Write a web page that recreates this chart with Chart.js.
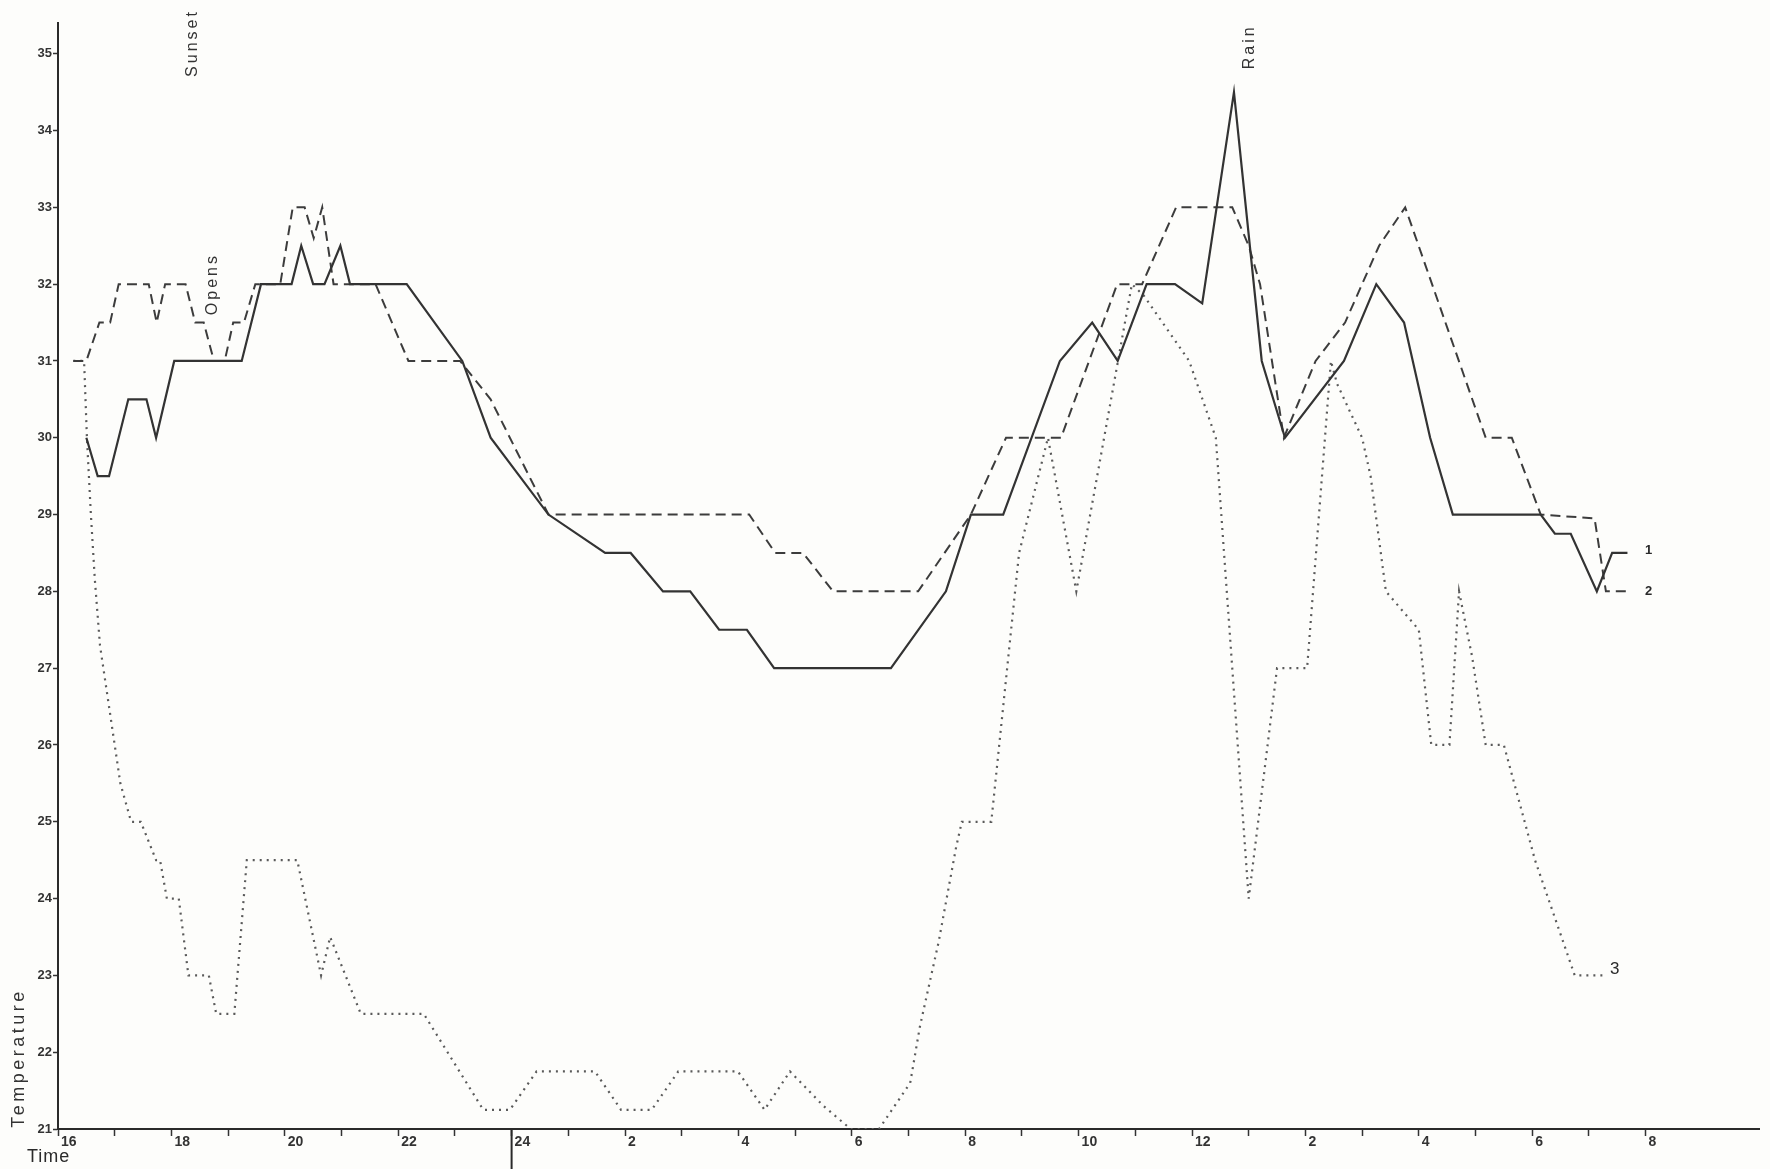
<!DOCTYPE html>
<html>
<head>
<meta charset="utf-8">
<title>Temperature</title>
<script src="https://cdn.jsdelivr.net/npm/chart.js@4.4.1/dist/chart.umd.min.js"></script>
<style>
  html, body { margin: 0; padding: 0; background: #fdfdfb; }
  #wrap { width: 1770px; height: 1169px; }
</style>
</head>
<body>
<div id="wrap"><canvas id="tempChart" width="1770" height="1169"></canvas></div>
<script>
// time is counted in hours from 16:00 on the first day
const hours1 = [0.5, 0.7, 0.9, 1.24, 1.56, 1.73, 2.05, 3.24, 3.58, 4.12, 4.29, 4.5, 4.7, 4.98, 5.15, 6.15, 7.13, 7.63, 8.65, 9.65,
  10.1, 10.67, 11.15, 11.66, 12.15, 12.63, 14.69, 15.66, 16.1, 16.67, 17.67, 18.24, 18.69, 19.2, 19.7, 20.18, 20.74, 21.23, 21.64, 22.68,
  23.25, 23.74, 24.2, 24.6, 26.15, 26.4, 26.68, 27.14, 27.41, 27.68];
const temps1 = [30, 29.5, 29.5, 30.5, 30.5, 30, 31, 31, 32, 32, 32.5, 32, 32, 32.5, 32, 32, 31, 30, 29, 28.5,
  28.5, 28, 28, 27.5, 27.5, 27, 27, 28, 29, 29, 31, 31.5, 31, 32, 32, 31.75, 34.5, 31, 30, 31,
  32, 31.5, 30, 29, 29, 28.75, 28.75, 28, 28.5, 28.5];

const hours2 = [0.27, 0.5, 0.73, 0.92, 1.07, 1.6, 1.74, 1.89, 2.25, 2.42, 2.57, 2.75, 2.94, 3.09, 3.28, 3.48, 3.92, 4.14, 4.35, 4.51,
  4.66, 4.86, 5.6, 6.18, 7.09, 7.63, 8.65, 12.19, 12.65, 13.14, 13.67, 15.17, 16.1, 16.72, 17.69, 18.68, 19.12, 19.72, 20.71, 21.0,
  21.2, 21.62, 22.18, 22.7, 23.3, 23.76, 25.18, 25.64, 26.15, 27.1, 27.3, 27.72];
const temps2 = [31, 31, 31.5, 31.5, 32, 32, 31.5, 32, 32, 31.5, 31.5, 31, 31, 31.5, 31.5, 32, 32, 33, 33, 32.6,
  33, 32, 32, 31, 31, 30.5, 29, 29, 28.5, 28.5, 28, 28, 29, 30, 30, 32, 32, 33, 33, 32.5,
  32, 30, 31, 31.5, 32.5, 33, 30, 30, 29, 28.95, 28, 28];

const hours3 = [0.27, 0.46, 0.51, 0.58, 0.65, 0.74, 0.92, 1.1, 1.29, 1.46, 1.73, 1.8, 1.92, 2.13, 2.3, 2.66, 2.79, 3.11, 3.33, 4.22,
  4.64, 4.8, 5.34, 6.45, 7.5, 7.97, 8.44, 9.47, 9.93, 10.47, 10.94, 11.99, 12.46, 12.91, 13.5, 13.98, 14.48, 15.03, 15.2, 15.53,
  15.84, 15.94, 16.46, 16.95, 17.46, 17.96, 18.94, 19.15, 19.95, 20.42, 21.0, 21.5, 22.03, 22.45, 22.56, 23.0, 23.15, 23.42, 24.0, 24.22,
  24.54, 24.71, 24.94, 25.18, 25.5, 26.05, 26.75, 27.25];
const temps3 = [31, 31, 30, 29, 28.15, 27.3, 26.4, 25.5, 25, 25, 24.5, 24.5, 24, 24, 23, 23, 22.5, 22.5, 24.5, 24.5,
  23, 23.5, 22.5, 22.5, 21.25, 21.25, 21.75, 21.75, 21.25, 21.25, 21.75, 21.75, 21.25, 21.75, 21.3, 21, 21, 21.6, 22.33, 23.43,
  24.67, 25, 25, 28.5, 30, 28, 32, 31.85, 31, 30, 24, 27, 27, 31, 30.7, 30, 29.5, 28, 27.5, 26,
  26, 28, 27.15, 26, 26, 24.5, 23, 23];

// clock labels, one every two hours from 16:00
const timeLabels = ['16', '18', '20', '22', '24', '2', '4', '6', '8', '10', '12', '2', '4', '6', '8'];
const tempTicks = [21, 22, 23, 24, 25, 26, 27, 28, 29, 30, 31, 32, 33, 34, 35];

const toPoints = (xs, ys) => xs.map((h, i) => ({ x: h, y: ys[i] }));
const FONT = '"Liberation Sans", Arial, sans-serif';

// background + hand-written notes of the original figure
const paperNotes = {
  id: 'paperNotes',
  beforeDraw(chart) {
    const ctx = chart.ctx;
    ctx.save();
    ctx.fillStyle = '#fdfdfb';
    ctx.fillRect(0, 0, chart.width, chart.height);
    ctx.restore();
  },
  afterDraw(chart) {
    const { ctx } = chart;
    const x = chart.scales.x, y = chart.scales.y;
    ctx.save();

    // long mark at midnight
    ctx.strokeStyle = '#2a2a2a';
    ctx.lineWidth = 2;
    const mid = x.getPixelForValue(8);
    ctx.beginPath();
    ctx.moveTo(mid, y.bottom);
    ctx.lineTo(mid, chart.height);
    ctx.stroke();

    const upText = (txt, px, py, font, spacing) => {
      ctx.save();
      ctx.translate(px, py);
      ctx.rotate(-Math.PI / 2);
      ctx.font = font;
      ctx.letterSpacing = spacing;
      ctx.textAlign = 'center';
      ctx.textBaseline = 'middle';
      ctx.fillStyle = '#333';
      ctx.fillText(txt, 0, 0);
      ctx.restore();
    };
    upText('Sunset', x.getPixelForValue(2.38), y.getPixelForValue(35.14), '16px ' + FONT, '3px');
    upText('Opens', x.getPixelForValue(2.73), y.getPixelForValue(32.0), '16px ' + FONT, '3px');
    upText('Rain', x.getPixelForValue(21.02), y.getPixelForValue(35.09), '16px ' + FONT, '3px');
    upText('Temperature', 19, 1058, '18px ' + FONT, '3.5px');

    ctx.fillStyle = '#2a2a2a';
    ctx.font = '18px ' + FONT;
    ctx.letterSpacing = '1px';
    ctx.textAlign = 'left';
    ctx.textBaseline = 'middle';
    ctx.fillText('Time', 27, 1157);

    // line numbers at the right ends
    ctx.letterSpacing = '0px';
    ctx.font = 'bold 13px ' + FONT;
    ctx.fillText('1', x.getPixelForValue(27.99), y.getPixelForValue(28.53));
    ctx.fillText('2', x.getPixelForValue(27.99), y.getPixelForValue(28.0));
    ctx.font = '17px ' + FONT;
    ctx.fillText('3', x.getPixelForValue(27.37), y.getPixelForValue(23.08));
    ctx.restore();
  }
};

const ctx = document.getElementById('tempChart');
new Chart(ctx, {
  type: 'line',
  data: {
    datasets: [
      { label: '1', data: toPoints(hours1, temps1), borderColor: '#333', borderWidth: 2.2 },
      { label: '2', data: toPoints(hours2, temps2), borderColor: '#3c3c3c', borderWidth: 2, borderDash: [10, 6] },
      { label: '3', data: toPoints(hours3, temps3), borderColor: '#5a5a5a', borderWidth: 2.2, borderDash: [2, 5] }
    ]
  },
  options: {
    responsive: false,
    animation: false,
    devicePixelRatio: 1,
    layout: { padding: { top: 23, right: 11, left: 0, bottom: 0 } },
    elements: { point: { radius: 0 }, line: { tension: 0, fill: false } },
    plugins: { legend: { display: false }, tooltip: { enabled: false } },
    scales: {
      x: {
        type: 'linear',
        min: 0,
        max: 30,
        afterBuildTicks: s => { s.ticks = Array.from({ length: 29 }, (_, i) => ({ value: i })); },
        afterFit: s => { s.height = 40; },
        ticks: {
          autoSkip: false,
          maxRotation: 0,
          align: 'start',
          labelOffset: 3,
          padding: -2,
          color: '#333',
          font: { family: FONT, size: 14, weight: 'bold' },
          callback: v => (v % 2 === 0 ? timeLabels[v / 2] : '')
        },
        grid: { drawOnChartArea: false, drawTicks: true, tickLength: 7, tickWidth: 1.5, tickColor: '#333' },
        border: { color: '#2a2a2a', width: 2 }
      },
      y: {
        min: 21,
        max: 35.4,
        afterBuildTicks: s => { s.ticks = tempTicks.map(v => ({ value: v })); },
        afterFit: s => { s.width = 58; },
        ticks: {
          padding: 1,
          color: '#333',
          font: { family: FONT, size: 13, weight: 'bold' }
        },
        grid: { drawOnChartArea: false, drawTicks: true, tickLength: 5, tickWidth: 1.5, tickColor: '#333' },
        border: { color: '#2a2a2a', width: 2 }
      }
    }
  },
  plugins: [paperNotes]
});
</script>
</body>
</html>
